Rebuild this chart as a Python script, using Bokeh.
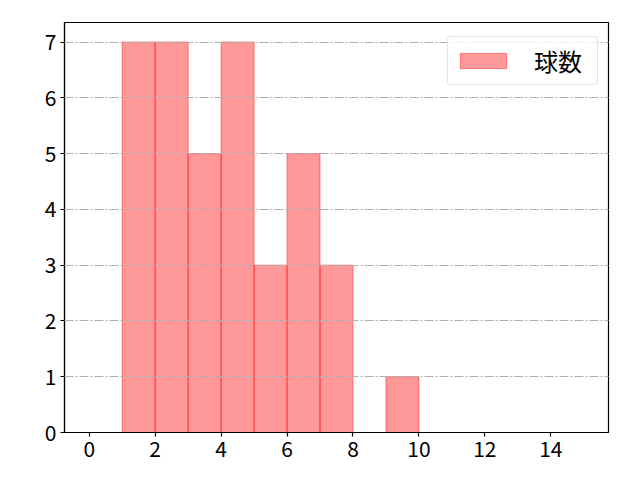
from bokeh.plotting import figure
from bokeh.models import Range1d, Legend, LegendItem, FixedTicker
from bokeh.embed import file_html
from bokeh.resources import INLINE

bin_edges = [1, 2, 3, 4, 5, 6, 7, 8, 9, 10]
counts = [7, 7, 5, 7, 3, 5, 3, 0, 1]
x_ticks = [0, 2, 4, 6, 8, 10, 12, 14]
y_ticks = [0, 1, 2, 3, 4, 5, 6, 7]
series_name = "球数"

FONT = "Noto Sans CJK JP"

p = figure(width=640, height=480, output_backend="svg", toolbar_location=None,
           x_range=Range1d(-0.75, 15.75), y_range=Range1d(0, 7.35),
           min_border_left=64, min_border_right=32, min_border_top=22, min_border_bottom=48)

r = p.quad(left=bin_edges[:-1], right=bin_edges[1:], bottom=0, top=counts,
           fill_color="red", fill_alpha=0.4, line_color="red", line_alpha=0.45, line_width=1)

p.xaxis.ticker = FixedTicker(ticks=x_ticks)
p.yaxis.ticker = FixedTicker(ticks=y_ticks)
for ax in (p.xaxis[0], p.yaxis[0]):
    ax.major_label_text_font = FONT
    ax.major_label_text_font_size = "21px"
    ax.major_label_text_color = "black"
    ax.axis_line_color = "black"
    ax.axis_line_width = 1.2
    ax.major_tick_line_color = "black"
    ax.major_tick_line_width = 1.2
    ax.major_tick_in = 0
    ax.major_tick_out = 4
    ax.minor_tick_line_color = None
    ax.major_label_standoff = 4

p.xgrid.grid_line_color = None
p.ygrid.grid_line_color = "#b0b0b0"
p.ygrid.grid_line_dash = "9 2 2 2"
p.ygrid.grid_line_width = 1
p.ygrid.level = "overlay"

p.outline_line_color = "black"
p.outline_line_width = 1.2
p.outline_line_alpha = 1

legend = Legend(items=[LegendItem(label=series_name, renderers=[r])], location=(383, 347))
legend.label_text_font = FONT
legend.label_text_font_size = "24px"
legend.label_text_color = "black"
legend.label_width = 57
legend.glyph_width = 58
legend.glyph_height = 19
legend.label_standoff = 22
legend.padding = 6
legend.margin = 0
legend.border_line_color = "#cccccc"
legend.border_line_width = 1
legend.border_radius = 4
legend.background_fill_alpha = 0.8
p.add_layout(legend)

open("out.html", "w").write(file_html(p, INLINE))
